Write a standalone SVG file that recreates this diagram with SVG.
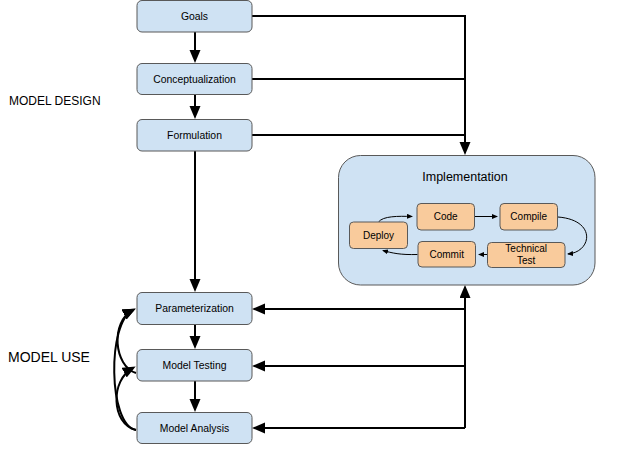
<svg xmlns="http://www.w3.org/2000/svg" width="624" height="461" viewBox="0 0 624 461">
<style>
.bn{fill:#cfe2f3;stroke:#595959;stroke-width:1}
.on{fill:#f9cb9c;stroke:#595959;stroke-width:1}
.t{font-family:"Liberation Sans",Arial,sans-serif;font-size:10.4px;fill:#000;text-anchor:middle}
.ot{font-family:"Liberation Sans",Arial,sans-serif;font-size:10px;fill:#000;text-anchor:middle}
.it{font-family:"Liberation Sans",Arial,sans-serif;font-size:12.5px;fill:#000;text-anchor:middle}
.lab{font-family:"Liberation Sans",Arial,sans-serif;fill:#000}
.c{fill:none;stroke:#000;stroke-width:2;stroke-linejoin:miter}
.s{fill:none;stroke:#000;stroke-width:1}
</style>
<defs>
<marker id="big" markerUnits="userSpaceOnUse" markerWidth="14" markerHeight="12" refX="10" refY="5.5" orient="auto">
<path d="M0,0 L13,5.5 L0,11 z" fill="#000"/>
</marker>
<marker id="sm" markerUnits="userSpaceOnUse" markerWidth="8" markerHeight="6" refX="5" refY="2.5" orient="auto">
<path d="M0,0 L6,2.5 L0,5 z" fill="#000"/>
</marker>
</defs>
<rect width="624" height="461" fill="#fff"/>
<text class="lab" x="9" y="104.5" font-size="12">MODEL DESIGN</text>
<text class="lab" x="8" y="362" font-size="14">MODEL USE</text>
<g id="connectors">
<path class="c" d="M195,32 L195,60" marker-end="url(#big)"/>
<path class="c" d="M195,94 L195,116" marker-end="url(#big)"/>
<path class="c" d="M195,151 L195,289" marker-end="url(#big)"/>
<path class="c" d="M195,324 L195,346" marker-end="url(#big)"/>
<path class="c" d="M195,381 L195,409" marker-end="url(#big)"/>
<path class="c" d="M252,16 L465,16 L465,152" marker-end="url(#big)"/>
<path class="c" d="M252,79 L465,79"/>
<path class="c" d="M252,135 L465,135"/>
<path class="c" d="M465,428 L465,288" marker-end="url(#big)"/>
<path class="c" d="M465,309 L255,309" marker-end="url(#big)"/>
<path class="c" d="M465,366 L255,366" marker-end="url(#big)"/>
<path class="c" d="M465,428 L255,428" marker-end="url(#big)"/>
<path class="c" d="M136,373 C114,366 110,322 133,310" marker-end="url(#big)"/>
<path class="c" d="M136,430 C108,425 107,322 133,310" marker-end="url(#big)"/>
<path class="c" d="M136,430 C111,424 110,380 133,368" marker-end="url(#big)"/>
</g>
<g id="goals"><rect class="bn" x="137" y="0.5" width="115" height="31.5" rx="5"/><text class="t" x="194.5" y="19.7">Goals</text></g>
<g id="conceptualization"><rect class="bn" x="137" y="63.5" width="115" height="31" rx="5"/><text class="t" x="194.5" y="82.5">Conceptualization</text></g>
<g id="formulation"><rect class="bn" x="137" y="119.5" width="115" height="31.5" rx="5"/><text class="t" x="194.5" y="138.7">Formulation</text></g>
<g id="parameterization"><rect class="bn" x="137" y="292.5" width="115" height="32" rx="5"/><text class="t" x="194.5" y="312">Parameterization</text></g>
<g id="model-testing"><rect class="bn" x="137" y="349.5" width="115" height="31.5" rx="5"/><text class="t" x="194.5" y="368.7">Model Testing</text></g>
<g id="model-analysis"><rect class="bn" x="137" y="412.5" width="115" height="31" rx="5"/><text class="t" x="194.5" y="431.5">Model Analysis</text></g>
<g id="implementation">
<rect class="bn" x="338.5" y="155.5" width="256.5" height="129.5" rx="22"/>
<text class="it" x="465" y="181">Implementation</text>
<g id="impl-connectors">
<path class="s" d="M474.5,216.5 L497,216.5" marker-end="url(#sm)"/>
<path class="s" d="M558,217 C597,220 592,252 568,254" marker-end="url(#sm)"/>
<path class="s" d="M487,254.5 L479,254.5" marker-end="url(#sm)"/>
<path class="s" d="M417.5,254.5 C400,255 392,253 383,250.5" marker-end="url(#sm)"/>
<path class="s" d="M378.5,222 C383,216 398,216 412,216.5" marker-end="url(#sm)"/>
</g>
<g id="code"><rect class="on" x="417" y="203.5" width="57.5" height="26.5" rx="4"/><text class="ot" x="445.7" y="220.2">Code</text></g>
<g id="compile"><rect class="on" x="500" y="203.5" width="57.5" height="26.5" rx="4"/><text class="ot" x="528.7" y="220.2">Compile</text></g>
<g id="deploy"><rect class="on" x="349.5" y="222" width="58" height="26.5" rx="4"/><text class="ot" x="378.5" y="238.7">Deploy</text></g>
<g id="commit"><rect class="on" x="418" y="241.5" width="57.5" height="25.5" rx="4"/><text class="ot" x="446.7" y="257.7">Commit</text></g>
<g id="technical-test"><rect class="on" x="487.5" y="242.5" width="77.5" height="25" rx="4"/><text class="ot" x="526.2" y="252">Technical</text><text class="ot" x="526.2" y="264">Test</text></g>
</g>
</svg>
